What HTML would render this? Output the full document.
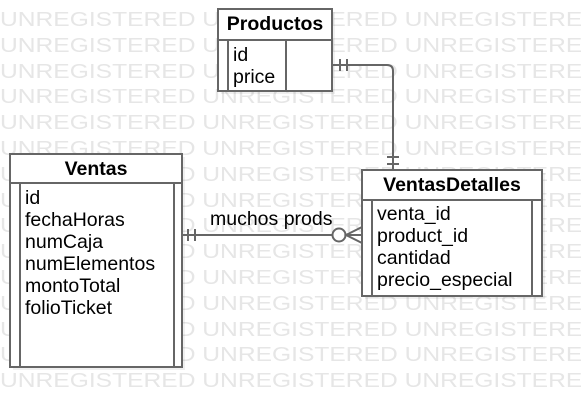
<!DOCTYPE html>
<html><head><meta charset="utf-8"><style>
html,body{margin:0;padding:0;background:#fff;}
body{width:581px;height:407px;position:relative;overflow:hidden;font-family:"Liberation Sans",sans-serif;}
#wmc{position:absolute;left:0;top:0;width:581px;height:407px;overflow:hidden;}
.wm{position:absolute;left:0;font-size:20.5px;color:#e6e6e6;white-space:nowrap;line-height:20px;transform:scaleX(1.2);transform-origin:0 0;}
svg{position:absolute;left:0;top:0;}
</style></head><body>
<div id="wmc"></div>
<svg width="581" height="407" xmlns="http://www.w3.org/2000/svg" font-family="Liberation Sans, sans-serif">
<g fill="#000" opacity="0.06"><rect x="221" y="12" width="114" height="82"/><rect x="13" y="157" width="172" height="213"/><rect x="365" y="173" width="180" height="126"/></g>
<g stroke="#666" stroke-width="2" fill="#fff">
<rect x="218" y="9" width="114" height="82"/>
<rect x="10" y="154" width="172" height="213"/>
<rect x="362" y="170" width="180" height="126"/>
</g>
<g stroke="#666" stroke-width="2" fill="none">
<line x1="218" y1="40" x2="332" y2="40"/><line x1="228" y1="40" x2="228" y2="91"/><line x1="286" y1="40" x2="286" y2="91"/>
<line x1="10" y1="183" x2="182" y2="183"/><line x1="20" y1="183" x2="20" y2="367"/><line x1="174" y1="183" x2="174" y2="367"/>
<line x1="362" y1="200" x2="542" y2="200"/><line x1="372" y1="200" x2="372" y2="296"/><line x1="532" y1="200" x2="532" y2="296"/>
<path d="M332 65 H387 Q393 65 393 71 V170"/>
<line x1="340" y1="59" x2="340" y2="71"/><line x1="347" y1="59" x2="347" y2="71"/>
<line x1="387" y1="157" x2="399" y2="157"/><line x1="387" y1="164" x2="399" y2="164"/>
<path d="M182 235 H332"/>
<line x1="188" y1="229" x2="188" y2="241"/><line x1="195" y1="229" x2="195" y2="241"/>
<circle cx="339" cy="235" r="6.5" fill="#fff"/>
<path d="M362 227 L346 235 L362 243 M346 235 H362"/>
</g>
<g font-size="19.5" fill="#000">
<text x="275" y="30" font-weight="bold" text-anchor="middle">Productos</text>
<text x="233" y="61">id</text><text x="233" y="83">price</text>
<text x="96" y="175" font-weight="bold" text-anchor="middle">Ventas</text>
<text x="25" y="204">id</text><text x="25" y="226">fechaHoras</text><text x="25" y="248">numCaja</text><text x="25" y="270">numElementos</text><text x="25" y="292">montoTotal</text><text x="25" y="314">folioTicket</text>
<text x="452" y="191" font-weight="bold" text-anchor="middle">VentasDetalles</text>
<text x="377" y="220">venta_id</text><text x="377" y="242">product_id</text><text x="377" y="264">cantidad</text><text x="377" y="286">precio_especial</text>
<text x="210" y="225">muchos prods</text>
</g>
</svg>
<script>
var c=document.getElementById('wmc'),h='';
for(var i=0;i<15;i++){h+='<div class="wm" style="top:'+(10+i*25.8)+'px">UNREGISTERED UNREGISTERED UNREGISTERED</div>';}
c.innerHTML=h;
</script>
</body></html>
